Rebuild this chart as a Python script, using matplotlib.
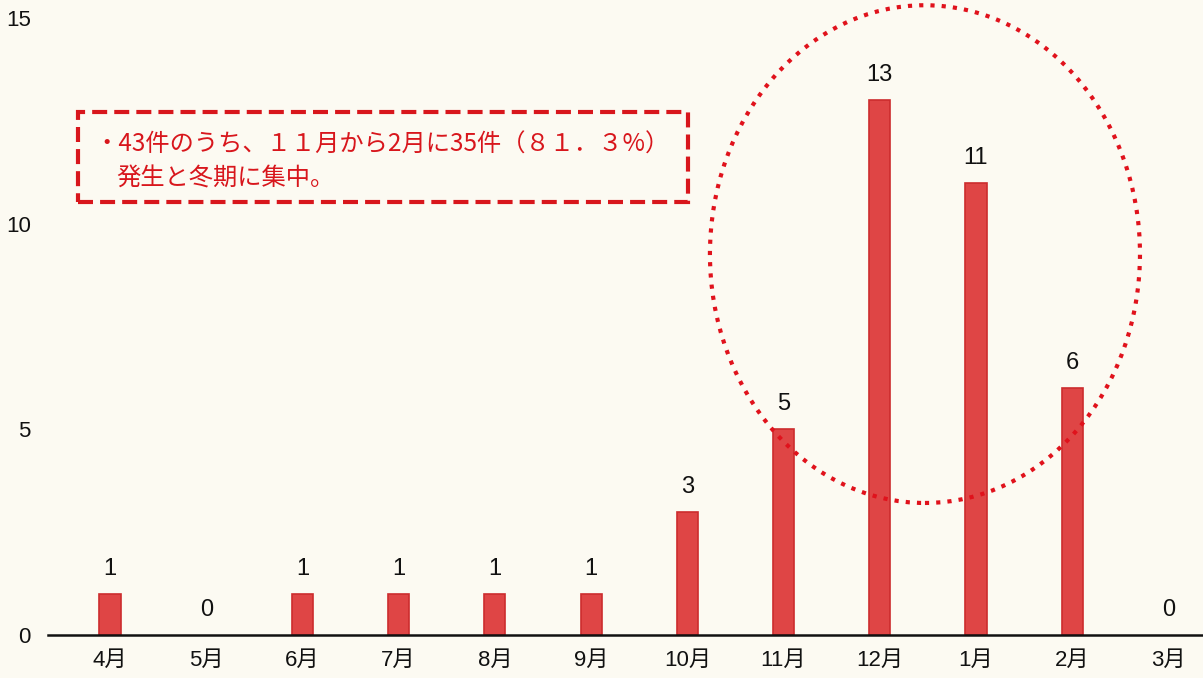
import matplotlib
matplotlib.use("Agg")
import matplotlib.pyplot as plt
from matplotlib.patches import Ellipse, Rectangle

months = ["4月", "5月", "6月", "7月", "8月", "9月", "10月", "11月", "12月", "1月", "2月", "3月"]
counts = [1, 0, 1, 1, 1, 1, 3, 5, 13, 11, 6, 0]
y_ticks = [0, 5, 10, 15]
note_lines = ["・43件のうち、１１月から2月に35件（８１．３%）", "発生と冬期に集中。"]

BG = "#fcfaf2"
BAR = "#df4545"
BAR_EDGE = "#cc2c2e"
RED = "#d8161c"

plt.rcParams["font.family"] = ["Liberation Sans", "Noto Sans CJK JP", "DejaVu Sans"]

fig = plt.figure(figsize=(12.03, 6.78), dpi=100, facecolor=BG)
ax = fig.add_axes([48 / 1203, 43 / 678, 1 - 48 / 1203, (635 - 18) / 678])
ax.set_facecolor(BG)

x = list(range(len(months)))
edge_widths = [1.2 if v > 0 else 0 for v in counts]
ax.bar(x, counts, width=0.22, color=BAR, edgecolor=BAR_EDGE,
       linewidth=edge_widths, zorder=2)

for xi, v in zip(x, counts):
    ax.annotate(str(v), (xi, v), xytext=(0, 10), textcoords="offset points",
                ha="center", va="bottom", fontsize=17, color="#111111")

ax.set_xlim(-0.645, 11.36)
ax.set_ylim(0, 15)
ax.set_yticks(y_ticks)
ax.set_yticklabels([str(t) for t in y_ticks], fontsize=16, color="#111111")
ax.set_xticks(x)
ax.set_xticklabels(months, fontsize=16, color="#111111")
ax.tick_params(axis="both", length=0)
ax.tick_params(axis="y", pad=12.5)
ax.tick_params(axis="x", pad=11)

for s in ["top", "right", "left"]:
    ax.spines[s].set_visible(False)
ax.spines["bottom"].set_linewidth(1.8)
ax.spines["bottom"].set_color("#111111")

# Dotted ring around the winter months
ring = Ellipse((8.47, 9.26), width=4.47, height=12.1, fill=False,
               edgecolor="#e0121c", linewidth=3.0, linestyle=(0, (1, 1.7)),
               clip_on=False, zorder=4)
ring.set_capstyle("butt")
ax.add_patch(ring)

# Dashed note box
box = Rectangle((78 / 1203, (678 - 202) / 678), 610 / 1203, 90 / 678,
                transform=fig.transFigure, fill=False, edgecolor=RED,
                linewidth=3.0, linestyle=(0, (3.6, 1.7)), zorder=5)
fig.patches.append(box)

note_font = ["Noto Sans CJK JP", "DejaVu Sans"]
fig.text(94 / 1203, 1 - 145 / 678, note_lines[0], fontsize=17.5, color=RED,
         va="center", ha="left", family=note_font)
fig.text(116 / 1203, 1 - 179 / 678, note_lines[1], fontsize=17.5, color=RED,
         va="center", ha="left", family=note_font)

fig.savefig("out.png", dpi=100, facecolor=BG)
